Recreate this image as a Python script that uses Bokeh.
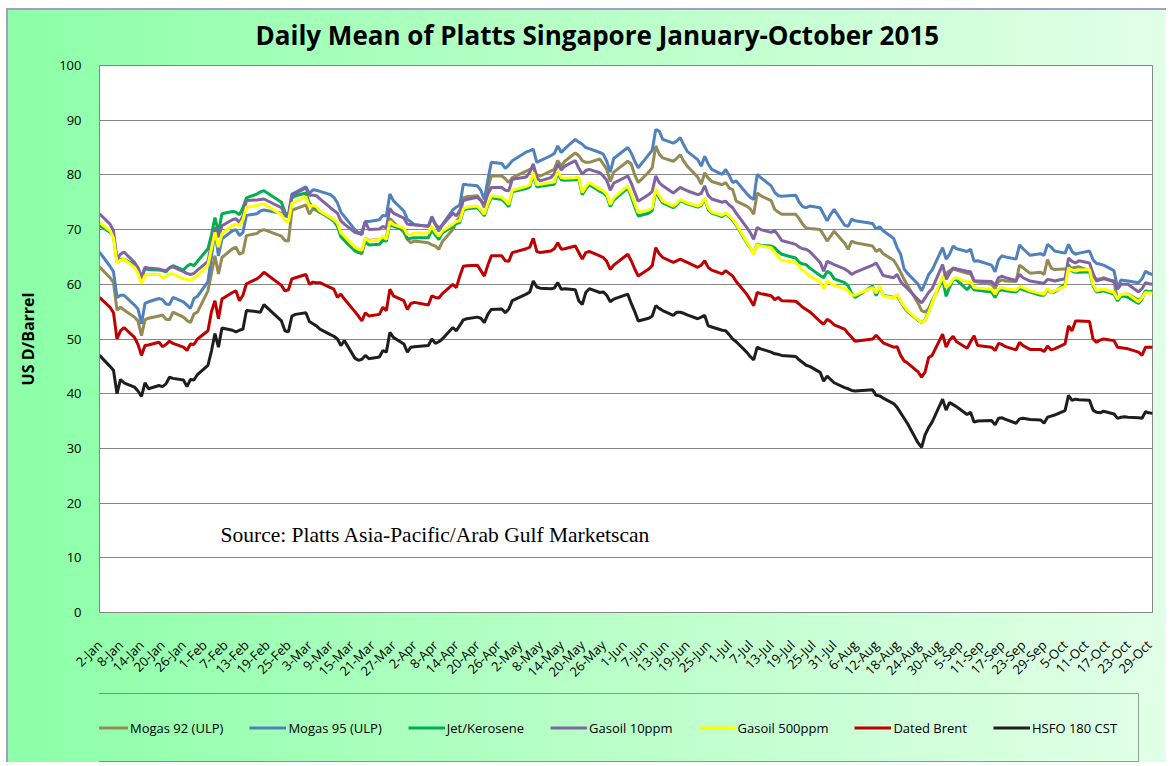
import math
import datetime as dt
import pandas as pd
from bokeh.plotting import figure
from bokeh.layouts import column
from bokeh.models import Range1d, FixedTicker, Legend, LegendItem, Label
from bokeh.embed import file_html
from bokeh.resources import INLINE

# ---------------- data ----------------
start_date = dt.date(2015, 1, 2)
end_date = dt.date(2015, 10, 30)
holidays = ["2015-02-19", "2015-02-20", "2015-04-03", "2015-05-01", "2015-06-01",
            "2015-07-17", "2015-08-07", "2015-08-10", "2015-09-11", "2015-09-24"]

mogas92 = [
    63.2, 61.2, 60.3, 55.3, 55.8, 55.3, 54.0, 53.3, 50.6, 53.5, 53.8, 54.2, 54.4, 53.6, 53.5, 54.9, 54.0, 53.4, 53.0, 54.6, 54.9,
    58.8, 62.0, 65.2, 61.9, 64.9, 66.5, 66.8, 65.5, 65.8, 68.9, 69.3, 69.8, 70.0, 68.8, 68.0, 67.9, 73.5, 73.8,
    74.5, 72.8, 73.8, 73.5, 73.1, 72.2, 71.7, 70.9, 69.2, 68.4, 66.6, 66.0, 65.5, 68.4, 68.0, 68.2, 68.6, 68.4, 72.0, 71.4, 69.5, 68.2,
    67.6, 67.9, 67.6, 67.2, 67.0, 66.4, 67.8, 70.0, 71.5, 72.3, 75.8, 76.0, 76.2, 75.4, 74.0, 77.5, 79.8, 79.8, 79.3, 78.6, 79.5,
    80.7, 81.0, 81.3, 80.0, 79.8, 80.7, 81.0, 82.6, 81.6, 82.5, 84.0, 83.5, 82.6, 82.3, 82.3, 82.9, 82.0, 81.0, 78.8, 80.5,
    82.5, 82.0, 80.0, 78.6, 80.5, 81.3, 85.3, 83.8, 83.1, 82.5, 83.0, 83.7, 82.5, 81.6, 79.6, 78.3, 80.4, 79.4, 78.8, 78.2, 78.6,
    77.6, 77.3, 75.2, 74.3, 73.8, 72.8, 76.7, 76.2, 75.3, 73.7, 73.2, 72.8, 72.8, 72.0, 71.0, 70.3, 70.2, 70.0, 69.0, 67.9, 68.8, 69.7,
    67.5, 66.4, 67.9, 67.6, 67.0, 66.0, 66.4, 65.6, 64.4, 63.4, 62.2, 60.9, 59.8, 56.5, 55.2, 54.9, 55.5, 57.0, 60.8,
    62.0, 62.5, 62.8, 62.6, 62.0, 61.9, 60.6, 60.4, 60.0, 59.2, 60.5, 60.8, 60.6, 60.5, 63.5, 63.0, 62.0, 62.2, 61.8, 64.5,
    63.0, 62.7, 62.8, 62.8, 63.0, 63.1, 63.2, 62.5, 61.5, 60.9, 61.0, 61.2, 60.4, 57.2, 58.0, 58.2, 58.2, 57.1, 57.6, 58.8, 58.6, 58.5,
]
mogas95 = [
    65.9, 63.3, 62.3, 57.6, 58.0, 58.0, 56.2, 55.5, 52.8, 56.5, 56.8, 57.4, 57.2, 56.4, 56.3, 57.6, 56.8, 56.2, 55.6, 57.4, 57.8,
    60.5, 65.0, 69.8, 65.2, 68.3, 69.8, 70.0, 68.9, 69.5, 72.6, 72.9, 73.4, 73.6, 73.0, 72.5, 72.3, 76.5, 76.8,
    77.8, 76.6, 77.3, 77.2, 77.0, 76.4, 75.9, 74.9, 73.2, 72.4, 70.0, 69.4, 69.6, 71.5, 71.5, 71.8, 72.6, 72.5, 76.5, 75.3, 73.4, 71.9,
    71.4, 70.9, 70.6, 72.4, 71.0, 69.7, 70.9, 73.6, 74.1, 74.5, 78.3, 78.2, 78.0, 77.2, 75.5, 79.0, 82.3, 82.1, 81.2, 81.8, 82.6,
    84.2, 84.4, 84.7, 82.3, 82.6, 83.5, 83.9, 85.3, 84.1, 84.8, 86.5, 86.0, 85.6, 85.0, 84.8, 84.1, 83.8, 82.5, 80.5, 83.0,
    85.0, 84.0, 82.5, 81.3, 83.7, 84.5, 88.3, 88.0, 86.5, 85.8, 86.2, 86.8, 85.5, 84.3, 82.8, 81.6, 83.4, 82.0, 81.0, 80.1, 81.0,
    79.9, 78.6, 78.9, 76.6, 75.9, 75.5, 80.1, 79.5, 78.0, 76.8, 76.2, 76.1, 76.3, 75.0, 74.2, 74.0, 74.3, 74.0, 72.8, 71.6, 72.8, 73.7,
    70.8, 70.6, 71.9, 71.6, 71.1, 70.1, 70.5, 69.8, 68.4, 66.7, 65.5, 62.8, 62.0, 60.0, 58.8, 60.2, 61.8, 62.6, 66.7,
    64.6, 65.5, 67.0, 66.5, 66.0, 66.4, 64.2, 64.3, 63.5, 62.3, 64.5, 65.2, 65.0, 64.6, 67.2, 66.5, 65.3, 65.6, 65.3, 67.3,
    66.8, 66.1, 65.7, 67.3, 66.0, 65.5, 65.7, 66.1, 64.5, 63.8, 63.7, 63.5, 62.5, 59.3, 60.8, 60.7, 60.6, 60.3, 61.0, 62.4, 62.0, 61.8,
]
jet_kero = [
    70.8, 69.5, 68.8, 64.0, 64.6, 64.6, 63.5, 63.0, 60.8, 62.9, 62.7, 62.6, 62.5, 62.3, 63.0, 63.4, 62.6, 63.3, 63.7, 63.4, 64.2,
    66.5, 69.0, 72.2, 69.5, 72.9, 73.3, 73.2, 72.7, 74.0, 75.8, 76.5, 76.9, 77.1, 75.0, 73.2, 72.4, 75.8, 76.2,
    76.7, 74.8, 74.2, 73.9, 73.3, 72.0, 71.5, 70.6, 68.7, 68.0, 66.1, 65.8, 66.0, 67.9, 67.2, 67.3, 68.0, 67.9, 71.0, 70.6, 70.0, 68.3,
    68.4, 68.5, 68.5, 70.0, 69.0, 68.2, 69.4, 70.6, 71.1, 71.3, 73.5, 73.8, 74.0, 73.3, 72.5, 74.4, 75.8, 75.5, 74.9, 74.2, 76.9,
    77.5, 77.8, 80.0, 77.8, 77.9, 78.2, 78.3, 80.3, 79.1, 79.0, 79.1, 79.2, 76.4, 77.4, 78.2, 77.0, 76.7, 76.1, 74.2, 75.4,
    77.6, 76.0, 74.2, 72.5, 73.0, 73.5, 77.0, 75.8, 74.9, 74.0, 74.5, 75.3, 75.0, 74.7, 74.1, 74.4, 75.6, 73.6, 73.0, 72.4, 72.9,
    72.3, 71.7, 70.8, 67.6, 66.7, 65.6, 67.4, 67.1, 67.0, 66.7, 66.0, 65.5, 64.8, 64.0, 63.7, 63.6, 63.0, 61.6, 61.2, 62.4, 62.0, 61.0,
    60.3, 59.7, 58.3, 57.6, 59.7, 57.9, 59.5, 58.0, 57.6, 58.0, 56.8, 55.8, 55.0, 53.4, 53.0, 53.5, 55.0, 56.8, 61.0,
    57.8, 59.5, 60.9, 60.8, 59.0, 59.8, 59.0, 58.9, 58.6, 57.6, 58.8, 59.0, 58.8, 58.6, 59.3, 59.0, 58.6, 58.0, 58.0, 59.0,
    58.5, 58.6, 60.0, 63.6, 62.4, 62.2, 62.2, 62.3, 59.7, 58.6, 58.7, 58.8, 58.2, 57.0, 57.8, 57.8, 57.6, 56.5, 57.3, 58.8, 58.6, 58.8,
]
gasoil10 = [
    72.9, 71.0, 69.8, 64.6, 65.5, 65.9, 64.0, 63.0, 61.3, 63.1, 63.0, 62.8, 62.6, 62.5, 63.0, 63.2, 62.3, 62.0, 61.8, 62.0, 62.6,
    64.2, 67.5, 70.4, 68.6, 70.7, 71.8, 72.0, 71.3, 72.5, 75.3, 75.4, 75.5, 75.6, 74.0, 72.8, 72.7, 76.3, 76.6,
    77.6, 76.3, 76.3, 76.2, 75.6, 74.0, 73.5, 73.0, 71.6, 71.0, 69.5, 69.3, 69.1, 71.5, 70.0, 70.1, 70.6, 70.3, 73.9, 73.0, 72.1, 71.0,
    70.9, 70.9, 70.6, 72.1, 71.0, 70.3, 70.8, 73.0, 72.5, 73.5, 75.3, 75.5, 75.9, 75.3, 74.6, 76.5, 77.7, 77.7, 77.2, 77.1, 79.2,
    79.6, 80.5, 82.0, 79.5, 78.9, 79.5, 80.2, 82.0, 80.9, 81.6, 82.6, 81.2, 80.1, 80.8, 81.0, 80.4, 79.8, 79.0, 77.2, 78.5,
    79.8, 78.5, 76.8, 75.2, 76.4, 77.0, 79.8, 78.6, 78.0, 76.7, 77.2, 77.7, 77.4, 77.1, 76.4, 76.6, 78.0, 76.2, 75.6, 75.0, 75.2,
    74.5, 74.0, 73.0, 70.4, 69.5, 68.2, 70.4, 70.0, 69.5, 69.8, 69.0, 68.0, 67.3, 66.8, 66.5, 66.4, 66.0, 64.0, 62.4, 64.2, 63.9, 63.6,
    62.8, 62.4, 61.8, 62.2, 63.5, 63.9, 62.8, 61.6, 61.2, 61.8, 60.5, 59.8, 59.2, 57.2, 56.6, 57.5, 58.5, 59.2, 63.6,
    60.9, 62.0, 63.0, 62.8, 62.4, 62.3, 60.6, 60.6, 60.5, 59.8, 61.2, 61.5, 61.2, 60.7, 61.8, 61.2, 60.6, 60.3, 60.2, 60.9,
    60.8, 60.6, 61.0, 64.8, 64.2, 63.9, 64.3, 63.9, 62.0, 60.6, 60.8, 61.0, 60.6, 59.1, 60.0, 60.0, 60.0, 58.6, 59.2, 60.3, 60.1, 60.0,
]
gasoil500 = [
    71.3, 69.8, 68.5, 64.0, 64.4, 64.6, 63.1, 62.0, 60.1, 61.6, 61.8, 61.8, 61.2, 61.4, 61.9, 61.9, 61.0, 60.9, 60.8, 61.1, 61.6,
    63.5, 66.5, 69.5, 66.8, 69.2, 70.8, 71.0, 70.7, 71.8, 74.1, 74.4, 74.6, 74.7, 72.7, 71.6, 71.5, 74.8, 75.1,
    76.0, 74.3, 74.4, 74.2, 73.4, 72.2, 71.8, 71.2, 69.4, 68.8, 66.8, 66.4, 66.2, 68.4, 67.9, 68.2, 68.8, 68.2, 71.5, 70.9, 70.3, 69.1,
    69.1, 69.4, 69.4, 70.6, 69.5, 68.8, 69.8, 71.0, 71.5, 71.6, 73.8, 74.1, 74.3, 73.6, 72.8, 74.7, 76.2, 75.9, 75.3, 74.6, 77.2,
    77.9, 78.2, 80.4, 78.2, 78.3, 78.6, 78.7, 80.7, 79.5, 79.4, 79.5, 79.6, 76.8, 77.8, 78.6, 77.4, 77.1, 76.5, 74.6, 75.8,
    78.0, 76.5, 74.8, 73.1, 73.6, 74.0, 77.4, 76.2, 75.2, 74.3, 74.8, 75.5, 75.2, 74.9, 74.3, 74.6, 75.8, 73.9, 73.2, 72.6, 73.1,
    72.5, 71.9, 71.0, 67.8, 66.8, 65.5, 67.3, 67.0, 66.7, 65.8, 65.0, 64.4, 64.0, 63.2, 62.6, 62.1, 61.5, 60.5, 59.2, 60.6, 60.2, 59.8,
    59.2, 58.8, 58.0, 58.0, 59.4, 58.4, 59.7, 57.9, 57.5, 58.2, 57.0, 56.0, 55.2, 53.5, 53.0, 53.4, 54.8, 56.6, 61.5,
    59.4, 60.0, 61.0, 61.2, 60.4, 60.5, 59.4, 59.3, 59.1, 58.2, 59.2, 59.4, 59.2, 58.9, 59.6, 59.4, 58.8, 58.3, 58.2, 59.3,
    58.5, 58.8, 59.6, 63.0, 62.6, 62.4, 62.6, 62.7, 60.0, 58.8, 59.0, 59.1, 58.5, 57.3, 58.2, 58.2, 58.2, 56.8, 57.5, 58.5, 58.4, 58.4,
]
dated_brent = [
    57.6, 55.8, 54.8, 50.0, 51.5, 52.1, 50.3, 49.0, 47.0, 48.8, 48.9, 49.4, 48.6, 49.0, 49.6, 49.2, 48.5, 47.9, 49.1, 49.0, 50.0,
    51.5, 55.0, 57.0, 53.7, 57.3, 58.5, 58.8, 57.0, 58.0, 60.1, 61.0, 61.5, 62.2, 59.8, 58.8, 59.0, 61.0, 61.2,
    61.8, 60.0, 60.4, 60.3, 60.3, 59.4, 59.1, 57.6, 58.2, 57.3, 55.0, 54.2, 53.3, 54.8, 54.2, 54.5, 55.8, 55.2, 59.1, 57.9, 57.0, 55.4,
    56.5, 56.7, 56.2, 57.9, 57.6, 57.5, 58.3, 60.0, 59.4, 61.5, 63.3, 63.4, 63.5, 62.5, 61.5, 63.5, 65.2, 65.2, 64.3, 64.2, 65.8,
    66.5, 66.8, 68.4, 66.0, 65.8, 66.1, 66.5, 67.6, 66.4, 66.5, 67.0, 65.8, 64.6, 65.8, 66.0, 65.2, 64.9, 64.2, 62.7, 63.5,
    65.5, 64.3, 62.8, 61.5, 62.8, 63.4, 66.7, 65.6, 64.9, 64.0, 64.3, 64.6, 64.3, 64.0, 63.1, 63.5, 64.3, 63.1, 62.6, 61.9, 62.5,
    62.0, 61.5, 60.5, 58.2, 57.2, 56.1, 58.5, 58.3, 57.9, 57.2, 57.6, 57.0, 56.9, 56.4, 55.8, 55.4, 55.0, 53.2, 52.7, 53.6, 53.2, 52.6,
    51.8, 51.0, 50.3, 49.6, 50.0, 50.7, 50.0, 49.3, 48.5, 48.6, 47.0, 46.0, 45.6, 44.0, 43.0, 44.0, 46.6, 47.0, 50.9,
    48.5, 49.8, 50.5, 49.5, 48.3, 49.5, 50.6, 48.8, 48.5, 47.9, 49.2, 49.0, 48.6, 48.0, 49.4, 48.8, 48.1, 48.1, 47.7, 48.7,
    48.0, 48.2, 49.1, 52.4, 51.5, 53.3, 53.3, 53.2, 50.0, 49.4, 49.8, 50.0, 49.7, 48.5, 48.4, 48.3, 48.2, 47.6, 47.0, 48.5, 48.5, 48.5,
]
hsfo180 = [
    47.0, 45.0, 44.3, 40.0, 42.6, 42.0, 41.2, 40.5, 39.5, 42.0, 40.9, 41.5, 41.3, 41.8, 43.0, 42.8, 42.5, 41.3, 42.6, 42.5, 43.5,
    45.2, 47.8, 51.0, 48.5, 52.0, 51.6, 51.3, 51.6, 51.8, 55.2, 55.0, 54.9, 56.3, 53.3, 51.5, 51.3, 54.2, 54.5,
    54.8, 53.2, 52.8, 52.4, 51.8, 50.8, 50.5, 50.0, 48.8, 49.7, 46.5, 46.1, 46.3, 47.0, 46.4, 46.7, 47.9, 47.6, 51.2, 50.3, 49.1, 47.6,
    48.5, 48.6, 48.8, 50.0, 49.2, 49.5, 50.0, 52.1, 51.5, 52.5, 53.5, 53.7, 54.0, 53.8, 53.0, 54.5, 55.4, 55.5, 54.8, 55.5, 57.0,
    58.2, 58.6, 60.6, 59.5, 59.3, 59.2, 59.3, 60.3, 59.1, 59.2, 59.0, 57.0, 56.3, 58.5, 59.2, 58.5, 58.6, 58.0, 56.8, 57.3,
    58.2, 56.5, 55.0, 53.3, 53.8, 54.2, 56.1, 55.6, 55.2, 54.3, 54.9, 54.9, 54.7, 54.4, 53.7, 54.0, 54.3, 52.4, 52.2, 51.6, 51.5,
    50.8, 50.0, 49.5, 47.6, 46.8, 46.2, 48.5, 48.2, 47.6, 47.3, 47.2, 47.0, 46.8, 46.2, 45.7, 45.2, 45.0, 43.9, 42.3, 43.2, 42.6, 42.0,
    41.1, 40.9, 40.6, 40.5, 40.7, 39.7, 39.6, 39.2, 38.2, 37.5, 36.5, 35.5, 34.5, 31.0, 30.2, 32.5, 33.8, 34.8, 39.0,
    37.0, 38.4, 38.0, 37.6, 36.2, 36.6, 34.8, 35.0, 35.1, 34.3, 35.5, 35.6, 35.3, 34.6, 35.4, 35.5, 35.3, 35.2, 34.6, 35.7,
    35.9, 36.1, 36.9, 39.7, 38.8, 39.0, 38.9, 38.8, 37.0, 36.6, 36.5, 36.8, 36.3, 35.5, 35.7, 35.8, 35.7, 35.6, 35.5, 36.7, 36.5, 36.4,
]

series_names = ["Mogas 92 (ULP)", "Mogas 95 (ULP)", "Jet/Kerosene", "Gasoil 10ppm",
                "Gasoil 500ppm", "Dated Brent", "HSFO 180 CST"]
series_values = [mogas92, mogas95, jet_kero, gasoil10, gasoil500, dated_brent, hsfo180]
series_colors = ["#948A54", "#4F81BD", "#00B050", "#8064A2", "#FFFF00", "#C00000", "#1E1E1E"]

title_text = "Daily Mean of Platts Singapore January-October 2015"
source_text = "Source: Platts Asia-Pacific/Arab Gulf Marketscan"
y_label = "US D/Barrel"
tick_step_days = 6

# ---------------- x positions (days since 2 Jan) ----------------
trade_days = [d.date() for d in pd.bdate_range(start_date, end_date)
              if d.strftime("%Y-%m-%d") not in holidays]
x = [(d - start_date).days for d in trade_days]
for nm, vals in zip(series_names, series_values):
    if len(vals) != len(x):
        raise SystemExit(f"{nm}: {len(vals)} values for {len(x)} dates")

span = (end_date - start_date).days
ticks = list(range(0, span, tick_step_days))
overrides = {}
for t in ticks:
    dd = start_date + dt.timedelta(days=t)
    overrides[t] = f"{dd.day}-{dd.strftime('%b')}"

FONT = "Open Sans"
GRAD = "linear-gradient(to right, #8CFFA8 0%, #B4FFC4 45%, #E2FFE8 100%)"
EDGE = "linear-gradient(#A69CC9, #A69CC9)"
BG_TOP = {"background": f"{EDGE} 6px 8px / 100% 2px no-repeat, {EDGE} 6px 8px / 2px 100% no-repeat, "
                        f"{GRAD} 8px 10px / 100% 100% no-repeat, #FFFFFF"}
BG_BOTTOM = {"background": f"{EDGE} 6px 0px / 2px 100% no-repeat, "
                           f"{GRAD} 8px 0px / 100% 100% no-repeat, #FFFFFF"}

# ---------------- main figure ----------------
W, H1, H2 = 1166, 690, 72
p = figure(width=W, height=H1, output_backend="svg", toolbar_location=None,
           x_range=Range1d(0, span), y_range=Range1d(0, 100),
           min_border_left=99, min_border_right=14, min_border_top=65, min_border_bottom=H1 - 612)
p.border_fill_color = None
p.background_fill_color = "white"
p.outline_line_color = "#868686"
p.outline_line_width = 1
p.styles = BG_TOP

p.title.text = title_text
p.title.align = "left"
p.title.offset = 156
p.title.text_font = FONT
p.title.text_font_style = "bold"
p.title.text_font_size = "26px"
p.title.text_color = "#000000"
p.title.vertical_align = "bottom"
p.title.standoff = 26

p.xgrid.visible = False
p.ygrid.grid_line_color = "#868686"
p.ygrid.grid_line_width = 1

p.yaxis.ticker = FixedTicker(ticks=list(range(0, 101, 10)))
p.yaxis.axis_line_color = "#868686"
p.yaxis.major_tick_line_color = None
p.yaxis.minor_tick_line_color = None
p.yaxis.major_label_text_font = FONT
p.yaxis.major_label_text_font_size = "13px"
p.yaxis.major_label_text_color = "#000000"
p.yaxis.major_label_standoff = 12
p.yaxis.axis_label = y_label
p.yaxis.axis_label_text_font = FONT
p.yaxis.axis_label_text_font_style = "bold"
p.yaxis.axis_label_text_font_size = "16px"
p.yaxis.axis_label_text_color = "#000000"
p.yaxis.axis_label_standoff = 17

p.xaxis.ticker = FixedTicker(ticks=ticks)
p.xaxis.major_label_overrides = overrides
p.xaxis.major_label_orientation = math.pi / 4
p.xaxis.axis_line_color = "#868686"
p.xaxis.major_tick_line_color = None
p.xaxis.minor_tick_line_color = None
p.xaxis.major_label_text_font = FONT
p.xaxis.major_label_text_font_size = "13px"
p.xaxis.major_label_text_color = "#000000"
p.xaxis.major_label_standoff = 24

for nm, vals, col in zip(series_names, series_values, series_colors):
    p.line(x, vals, line_color=col, line_width=3)

p.add_layout(Label(x=34.6, y=14.2, text=source_text, text_font="Liberation Serif",
                   text_font_size="21.5px", text_color="#000000",
                   text_align="left", text_baseline="middle"))

# ---------------- legend strip ----------------
# same series drawn into an empty unit range, so only the legend entries show
q = figure(width=W, height=H2, output_backend="svg", toolbar_location=None,
           x_range=Range1d(0, 1), y_range=Range1d(0, 1),
           x_axis_location=None, y_axis_location=None, min_border=0)
q.border_fill_color = None
q.background_fill_color = None
q.outline_line_color = None
q.grid.visible = False
q.styles = BG_BOTTOM

items = []
for nm, vals, col in zip(series_names, series_values, series_colors):
    r = q.line(x, vals, line_color=col, line_width=3)
    items.append(LegendItem(label=nm, renderers=[r]))

legend = Legend(items=items, orientation="horizontal", location=(-30, 0),
                padding=21, spacing=26, glyph_width=37, glyph_height=25,
                label_height=25, label_standoff=2,
                label_text_font=FONT, label_text_font_size="13px",
                label_text_color="#000000",
                border_line_color="#404040", border_line_width=1,
                background_fill_alpha=0)
q.add_layout(legend)

layout = column(p, q, spacing=0)
open("out.html", "w").write(file_html(layout, INLINE))
